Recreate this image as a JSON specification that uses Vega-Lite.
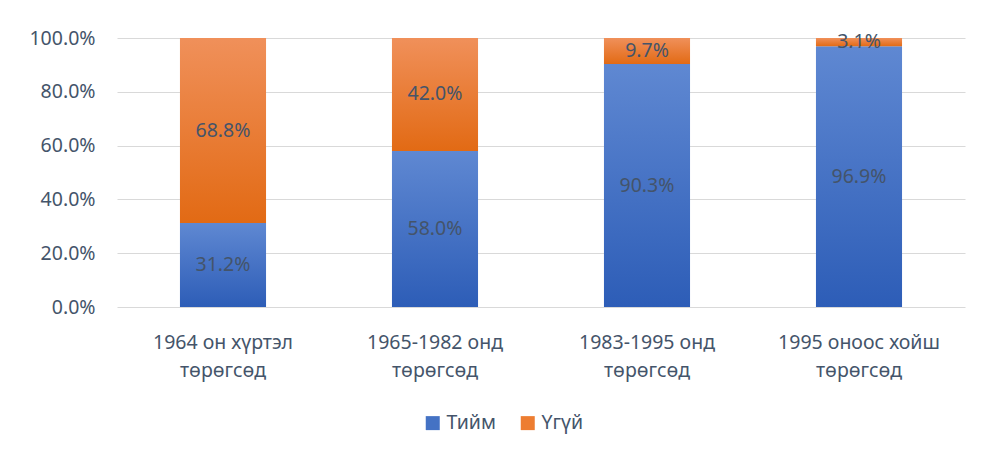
{
  "$schema": "https://vega.github.io/schema/vega-lite/v6.json",
  "autosize": {"type": "none"},
  "padding": {"left": 117, "top": 38, "right": 20, "bottom": 148},
  "width": 848,
  "height": 269,
  "background": "white",
  "data": {
    "values": [
      {"cat": "1964 он хүртэл төрөгсөд", "series": "Тийм", "value": 0.312},
      {"cat": "1964 он хүртэл төрөгсөд", "series": "Үгүй", "value": 0.688},
      {"cat": "1965-1982 онд төрөгсөд", "series": "Тийм", "value": 0.58},
      {"cat": "1965-1982 онд төрөгсөд", "series": "Үгүй", "value": 0.42},
      {"cat": "1983-1995 онд төрөгсөд", "series": "Тийм", "value": 0.903},
      {"cat": "1983-1995 онд төрөгсөд", "series": "Үгүй", "value": 0.097},
      {"cat": "1995 оноос хойш төрөгсөд", "series": "Тийм", "value": 0.969},
      {"cat": "1995 оноос хойш төрөгсөд", "series": "Үгүй", "value": 0.031}
    ]
  },
  "encoding": {
    "x": {
      "field": "cat",
      "type": "nominal",
      "sort": null,
      "title": null,
      "scale": {"paddingInner": 0.594, "paddingOuter": 0.297},
      "axis": {
        "labelAngle": 0,
        "domain": false,
        "ticks": false,
        "labelExpr": "[replace(datum.label, ' төрөгсөд', ''), 'төрөгсөд']",
        "labelLineHeight": 28,
        "labelPadding": 26,
        "labelFont": "Noto Sans",
        "labelFontSize": 19.5,
        "labelColor": "#44546A"
      }
    },
    "y": {
      "field": "value",
      "type": "quantitative",
      "stack": "zero",
      "title": null,
      "scale": {"domain": [0, 1]},
      "axis": {
        "format": ".1%",
        "values": [0, 0.2, 0.4, 0.6, 0.8, 1],
        "domain": false,
        "ticks": false,
        "grid": true,
        "gridColor": "#D9D9D9",
        "gridWidth": 1,
        "labelPadding": 22,
        "labelFont": "Noto Sans",
        "labelFontSize": 19.5,
        "labelColor": "#44546A"
      }
    },
    "order": {"field": "series"}
  },
  "layer": [
    {
      "mark": {"type": "bar"},
      "encoding": {
        "color": {
          "field": "series",
          "type": "nominal",
          "scale": {"domain": ["Тийм", "Үгүй"], "range": ["#4472C4", "#ED7D31"]},
          "legend": {
            "title": null,
            "orient": "none",
            "legendX": 306,
            "legendY": 375,
            "direction": "horizontal",
            "symbolType": "square",
            "symbolSize": 196,
            "symbolStrokeWidth": 0,
            "labelFont": "Noto Sans",
            "labelFontSize": 19.5,
            "labelColor": "#44546A",
            "labelOffset": 4,
            "columnPadding": 22
          },
          "condition": [
            {
              "test": "datum.series === 'Тийм'",
              "value": {
                "gradient": "linear",
                "x1": 0, "y1": 0, "x2": 0, "y2": 1,
                "stops": [
                  {"offset": 0, "color": "#5F88D2"},
                  {"offset": 1, "color": "#2D5DB7"}
                ]
              }
            },
            {
              "test": "datum.series === 'Үгүй'",
              "value": {
                "gradient": "linear",
                "x1": 0, "y1": 0, "x2": 0, "y2": 1,
                "stops": [
                  {"offset": 0, "color": "#F0905A"},
                  {"offset": 1, "color": "#E26A14"}
                ]
              }
            }
          ]
        }
      }
    },
    {
      "mark": {"type": "text", "font": "Noto Sans", "fontSize": 19.5, "color": "#44546A", "baseline": "middle"},
      "encoding": {
        "y": {"field": "value", "type": "quantitative", "stack": "zero", "bandPosition": 0.5},
        "detail": {"field": "series"},
        "text": {"field": "value", "type": "quantitative", "format": ".1%"}
      }
    }
  ],
  "config": {
    "view": {"stroke": null}
  }
}
